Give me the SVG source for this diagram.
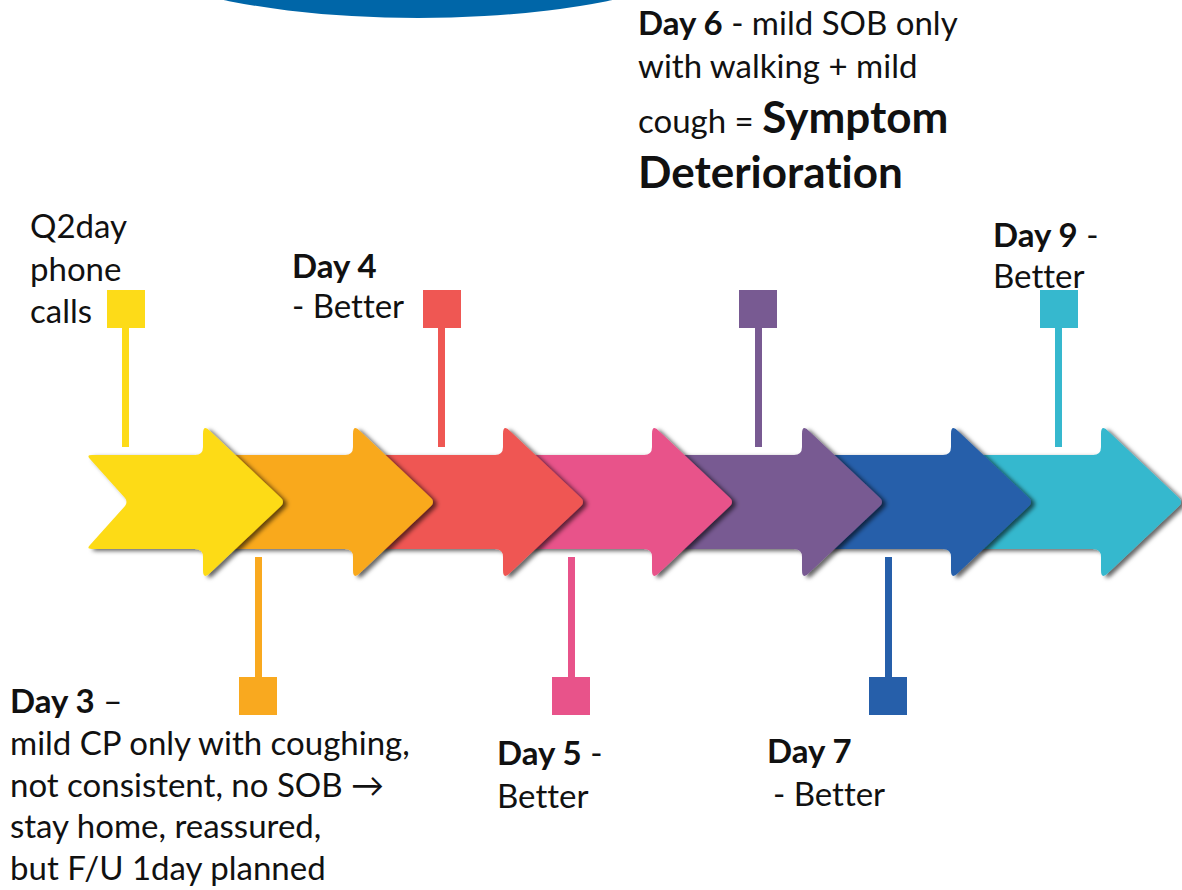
<svg xmlns="http://www.w3.org/2000/svg" xmlns:xlink="http://www.w3.org/1999/xlink" width="1182" height="890" viewBox="0 0 1182 890">
<style>
text{font-family:Lato,"Open Sans",sans-serif;font-size:33px;fill:#111;font-variant-ligatures:none;font-feature-settings:"liga" 0}
.b{font-weight:bold}
.big{font-weight:bold;font-size:44px}
</style>
<defs>
<filter id="sh" x="-10%" y="-10%" width="130%" height="130%">
<feDropShadow dx="4" dy="2" stdDeviation="2" flood-color="#000" flood-opacity="0.6"/>
</filter>
<path id="arr" d="M-220,455 H-90 Q-82,455 -82,447 V434 Q-82,424 -75,431 L-4,498 Q0,502 -4,506 L-75,573 Q-82,580 -82,570 V557 Q-82,549 -90,549 H-220 Z"/>
</defs>
<rect width="1182" height="890" fill="#fff"/>
<ellipse cx="418" cy="-82" rx="340" ry="100" fill="#0066A8"/>

<g id="arrows">
<use xlink:href="#arr" x="1183" fill="#36B8CE" filter="url(#sh)"/>
<use xlink:href="#arr" x="1033" fill="#265FAA" filter="url(#sh)"/>
<use xlink:href="#arr" x="884" fill="#785A92" filter="url(#sh)"/>
<use xlink:href="#arr" x="734" fill="#E8538A" filter="url(#sh)"/>
<use xlink:href="#arr" x="585" fill="#EF5753" filter="url(#sh)"/>
<use xlink:href="#arr" x="435" fill="#F9A91F" filter="url(#sh)"/>
<path d="M92,455 H195 Q203,455 203,447 V434 Q203,424 210,431 L281,498 Q285,502 281,506 L210,573 Q203,580 203,570 V557 Q203,549 195,549 H92 Q86,549 90,545 L125,506 Q128,502 125,498 L90,459 Q86,455 92,455 Z" fill="#FDDB18" filter="url(#sh)"/>
</g>

<g id="connectors">
<rect x="122" y="328" width="7" height="119" fill="#FDDB18"/>
<rect x="255" y="557" width="7" height="120" fill="#F9A91F"/>
<rect x="438" y="328" width="7" height="119" fill="#EF5753"/>
<rect x="568" y="557" width="7" height="120" fill="#E8538A"/>
<rect x="755" y="328" width="7" height="119" fill="#785A92"/>
<rect x="885" y="557" width="7" height="120" fill="#265FAA"/>
<rect x="1055" y="328" width="7" height="119" fill="#36B8CE"/>
</g>

<g id="q2day">
<rect x="107" y="290" width="38" height="38" fill="#FDDB18"/>
<text x="30" y="238">Q2day</text>
<text x="30" y="281">phone</text>
<text x="30" y="323">calls</text>
</g>
<g id="day3">
<rect x="239" y="677" width="38" height="38" fill="#F9A91F"/>
<text x="10" y="713"><tspan class="b">Day 3</tspan> –</text>
<text x="10" y="755">mild CP only with coughing,</text>
<text x="10" y="797">not consistent, no SOB →</text>
<text x="10" y="838">stay home, reassured,</text>
<text x="10" y="880">but F/U 1day planned</text>
</g>
<g id="day4">
<rect x="423" y="290" width="38" height="38" fill="#EF5753"/>
<text x="292" y="278" class="b">Day 4</text>
<text x="292" y="318">- Better</text>
</g>
<g id="day5">
<rect x="552" y="677" width="38" height="38" fill="#E8538A"/>
<text x="497" y="765"><tspan class="b">Day 5</tspan> -</text>
<text x="497" y="808">Better</text>
</g>
<g id="day6">
<rect x="739" y="290" width="38" height="38" fill="#785A92"/>
<text x="638" y="35"><tspan class="b">Day 6</tspan> - mild SOB only</text>
<text x="638" y="78">with walking + mild</text>
<text x="638" y="133">cough = <tspan class="big">Symptom</tspan></text>
<text x="638" y="188" class="big">Deterioration</text>
</g>
<g id="day7">
<rect x="869" y="677" width="38" height="38" fill="#265FAA"/>
<text x="767" y="763" class="b">Day 7</text>
<text x="773" y="806">- Better</text>
</g>
<g id="day9">
<text x="993" y="247"><tspan class="b">Day 9</tspan> -</text>
<text x="993" y="288">Better</text>
<rect x="1040" y="290" width="38" height="38" fill="#36B8CE"/>
</g>
</svg>
